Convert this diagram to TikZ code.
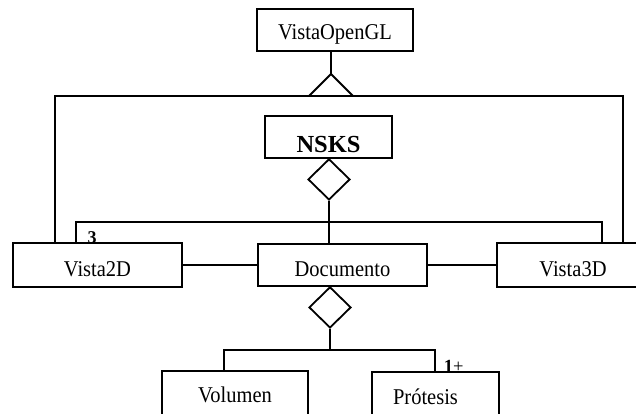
\documentclass[tikz,border=0pt]{standalone}
\usepackage{fontspec}
\usepackage{graphicx}
\setmainfont{Liberation Serif}
\usetikzlibrary{shapes.geometric}
\newcommand\vstr[1]{\scalebox{1}[1.1]{#1}}
\tikzset{
  every path/.style={line width=1.8pt},
  cls/.style={draw, line width=1.8pt, rectangle, inner sep=0pt, text depth=0pt, text height=22pt,
     font=\fontsize{20.5}{20.5}\selectfont},
  dia/.style={draw, line width=1.8pt, diamond, inner sep=0pt, minimum width=42pt, minimum height=41pt},
  mult/.style={inner sep=0pt, anchor=base}
}
\begin{document}
\begin{tikzpicture}[x=1pt,y=-1pt]
\useasboundingbox (0,0) rectangle (636,413);
% classes
\node[cls, minimum width=156pt, minimum height=42pt, text height=18pt] (opengl) at (335,30) {\vstr{VistaOpenGL}};
\node[cls, minimum width=127pt, minimum height=42pt, text height=30pt, font=\fontsize{24.5}{24.5}\selectfont\bfseries] (nsks) at (328.5,137) {NSKS};
\node[cls, minimum width=169pt, minimum height=44pt] (v2d) at (97.5,265) {\vstr{Vista2D}};
\node[cls, minimum width=169pt, minimum height=42pt] (doc) at (342.5,265) {\vstr{Documento}};
\node[cls, minimum width=152pt, minimum height=44pt] (v3d) at (573,265) {\vstr{Vista3D}};
\node[cls, minimum width=146pt, minimum height=48pt, text height=14pt] (vol) at (235,395) {\vstr{Volumen}};
\node[cls, minimum width=127pt, minimum height=48pt, text height=16pt] (pro) at (435.5,396) {\hspace*{-20pt}\vstr{Prótesis}};
% aggregation diamonds
\node[dia, anchor=north] (d1) at (329,158) {};
\node[dia, anchor=north] (d2) at (330,286) {};
% generalization
\coordinate (tri) at (331,74);
\coordinate (tribl) at (309,96);
\coordinate (tribr) at (353,96);
\draw (opengl.south -| tri) -- (tri);
\coordinate (TL) at (55,96);
\coordinate (TR) at (623,96);
\draw (v2d.north -| TL) -- (TL) -- (TR) -- (v3d.north -| TR);
\draw[fill=white] (tri) -- (tribr) -- (tribl) -- cycle;
\draw[line width=2.6pt] (tribl) -- (tribr);
% 2D-3D association
\coordinate (SL) at (76,222);
\coordinate (SR) at (602,222);
\draw (v2d.north -| SL) -- (SL) -- (SR) -- (v3d.north -| SR);
% NSKS - Documento
\draw (d1.south) -- (d1.south |- doc.north);
% views - document
\draw (v2d.east) -- (doc.west);
\draw (doc.east) -- (v3d.west);
% Documento parts
\coordinate (J) at (330,350);
\coordinate (BL) at (224,350);
\coordinate (BR) at (435,350);
\draw (d2.south) -- (J);
\draw (vol.north -| BL) -- (BL) -- (BR) -- (pro.north -| BR);
% multiplicities
\node[mult, font=\fontsize{18}{18}\selectfont\bfseries] (m3) at (92,243) {3};
\node[mult, anchor=base west, font=\fontsize{18.5}{18.5}\selectfont] (m1) at (443,372) {\textbf{1}+};
\end{tikzpicture}
\end{document}
